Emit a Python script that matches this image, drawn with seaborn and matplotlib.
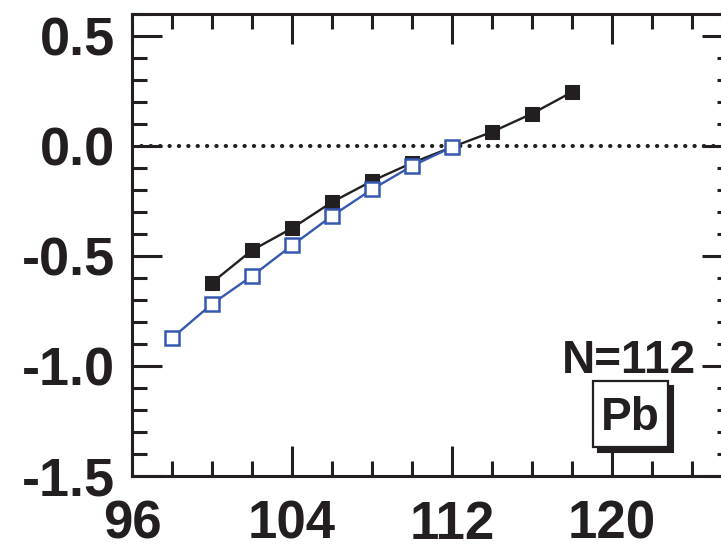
import matplotlib
matplotlib.use("Agg")
import matplotlib.pyplot as plt
from matplotlib.patches import Rectangle
from matplotlib.ticker import MultipleLocator, FixedLocator
import seaborn as sns
import pandas as pd

# ---- data ----
black_x = [100, 102, 104, 106, 108, 110, 112, 114, 116, 118]
black_y = [-0.621, -0.474, -0.374, -0.255, -0.159, -0.077, -0.005, 0.064, 0.147, 0.245]
blue_x = [98, 100, 102, 104, 106, 108, 110, 112]
blue_y = [-0.873, -0.718, -0.591, -0.452, -0.318, -0.197, -0.091, -0.005]
xticks = [96, 104, 112, 120]
yticks = [-1.5, -1.0, -0.5, 0.0, 0.5]
ytick_labels = ["-1.5", "-1.0", "-0.5", "0.0", "0.5"]
label_N = "N=112"
label_el = "Pb"

sns.set_style("ticks")
plt.rcParams['font.family'] = ['Liberation Sans', 'DejaVu Sans']
plt.rcParams['font.weight'] = 'bold'

BLK = "#231f20"
BLUE = "#3558b0"
W, H = 721, 553

fig = plt.figure(figsize=(7.21, 5.53), dpi=100)
ax = fig.add_axes([132/W, 1-476/H, 600/W, 462/H])

ax.axhline(0, color=BLK, lw=3.0, ls=(0, (0.05, 2.2)), dash_capstyle='round', zorder=1)

df_b = pd.DataFrame({"x": black_x, "y": black_y})
df_u = pd.DataFrame({"x": blue_x, "y": blue_y})
sns.lineplot(data=df_b, x="x", y="y", ax=ax, color=BLK, lw=1.7, marker='s',
             markersize=10.5, markerfacecolor=BLK, markeredgecolor=BLK, zorder=3)
sns.lineplot(data=df_u, x="x", y="y", ax=ax, color=BLUE, lw=1.7, marker='s',
             markersize=10, markerfacecolor='white', markeredgecolor=BLUE,
             markeredgewidth=1.8, zorder=4)

ax.set_xlim(96, 126)
ax.set_ylim(-1.5, 0.6)
ax.xaxis.set_major_locator(FixedLocator(xticks))
ax.xaxis.set_minor_locator(MultipleLocator(2))
ax.yaxis.set_major_locator(FixedLocator(yticks))
ax.yaxis.set_minor_locator(MultipleLocator(0.1))
ax.set_yticklabels(ytick_labels)
ax.set_xlabel("")
ax.set_ylabel("")

for s in ax.spines.values():
    s.set_linewidth(2.2)
    s.set_color(BLK)
    s.set_visible(True)

ax.tick_params(which='both', direction='in', top=True, right=True, color=BLK, width=2.2)
ax.tick_params(which='major', length=21.5)
ax.tick_params(which='minor', length=11)
ax.tick_params(axis='y', which='major', labelsize=39, pad=12, labelcolor=BLK)
ax.tick_params(axis='x', which='major', labelsize=38, pad=17, labelcolor=BLK)
for lab in ax.get_xticklabels() + ax.get_yticklabels():
    lab.set_fontweight('bold')

ax.text(696/W, 1 - 373/H, label_N, transform=fig.transFigure, ha='right', va='baseline',
        fontsize=33, fontweight='bold', color=BLK, zorder=6)

# element label box with shadow (pixel geometry of the box)
bx0, by0, bx1, by1 = 593, 381, 668, 447
sh = 5
fig.add_artist(Rectangle(((bx0 + sh)/W, 1 - (by1 + sh)/H), (bx1 - bx0)/W, (by1 - by0)/H,
                         transform=fig.transFigure, fc=BLK, ec=BLK, lw=1.5, zorder=5))
fig.add_artist(Rectangle((bx0/W, 1 - by1/H), (bx1 - bx0)/W, (by1 - by0)/H,
                         transform=fig.transFigure, fc='white', ec=BLK, lw=1.6, zorder=6))
fig.text((bx0 + bx1)/2/W, 1 - 430/H, label_el, ha='center', va='baseline', fontsize=33,
         fontweight='bold', color=BLK, zorder=7)

fig.savefig("out.png", dpi=100)
